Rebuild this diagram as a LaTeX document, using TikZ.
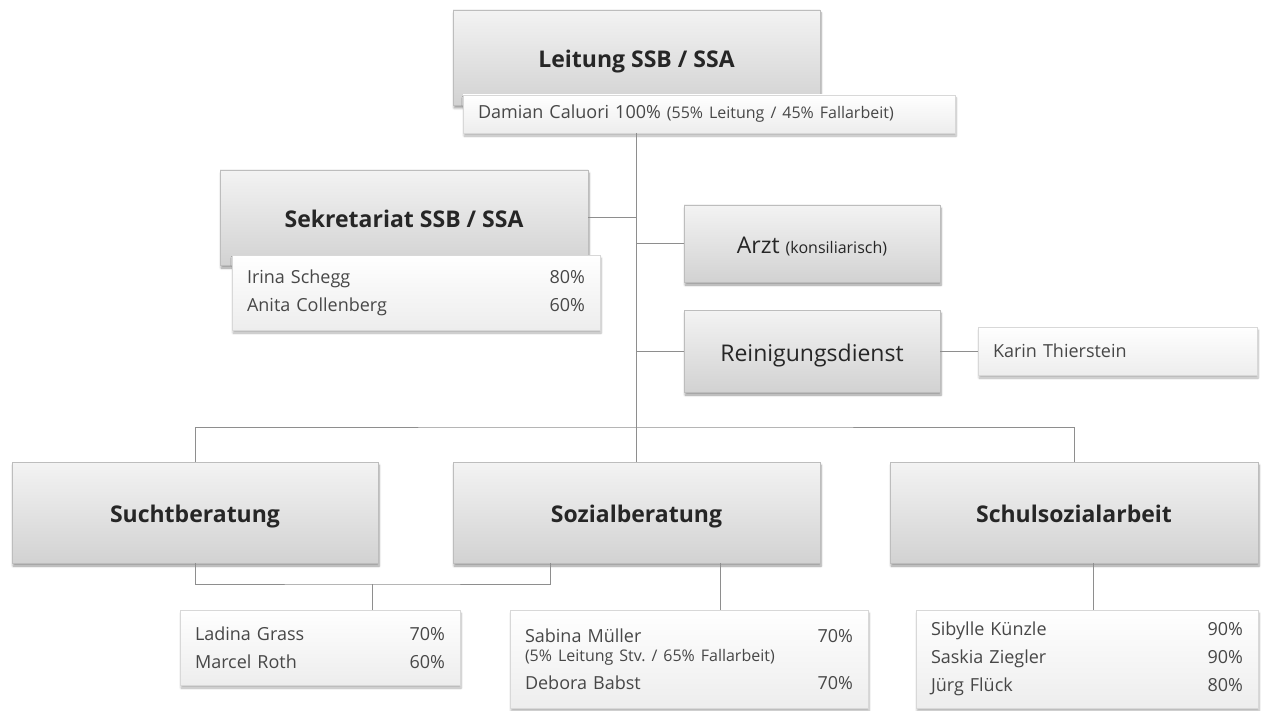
\documentclass[tikz,border=0pt]{standalone}
\usepackage{fontspec}
\setmainfont{Open Sans}
\usetikzlibrary{positioning,shadows.blur}

\definecolor{boxtop}{HTML}{F3F3F3}
\definecolor{boxbottom}{HTML}{D2D2D2}
\definecolor{boxline}{HTML}{BDBDBD}
\definecolor{staffline}{HTML}{D8D8D8}
\definecolor{stafffill}{HTML}{EDEDED}
\definecolor{linkgray}{HTML}{8E8E8E}
\definecolor{ink}{HTML}{262626}

\newcommand{\pct}[2]{#1\hskip 0pt plus 1fill #2}

\begin{document}
\begin{tikzpicture}[x=1pt,y=-1pt,
    unit/.style={draw=boxline, top color=boxtop, bottom color=boxbottom, inner sep=0pt,
      text height=20pt, text depth=0pt, text=ink,
      blur shadow={shadow xshift=1pt, shadow yshift=-3pt, shadow blur steps=6, shadow opacity=40},
      font=\fontsize{23}{28}\selectfont},
    head/.style={unit, font=\fontsize{23}{28}\selectfont\bfseries},
    staff/.style={draw=staffline, top color=white, bottom color=stafffill, inner xsep=15pt, inner ysep=0pt,
      align=left, text=ink!85, blur shadow={shadow xshift=1pt, shadow yshift=-3pt, shadow blur steps=6, shadow opacity=30},
      font=\fontsize{18}{28}\selectfont},
    link/.style={draw=linkgray, line width=1pt}]
    \useasboundingbox (0,0) rectangle (1265,711);

    % management
    \node[head, minimum width=367pt, minimum height=95pt] (leitung) at (636.5,57.5) {Leitung SSB / SSA};
    \node[staff, text width=462pt, minimum height=38pt] (leitungStaff) at (709,114)
      {Damian Caluori 100\% {\fontsize{16}{20}\selectfont(55\% Leitung / 45\% Fallarbeit)}};

    \node[head, minimum width=368pt, minimum height=95pt] (sekretariat) at (404,217.5) {Sekretariat SSB / SSA};
    \node[staff, text width=338pt, minimum height=75pt] (sekretariatStaff) at (416,292.5)
      {\pct{Irina Schegg}{80\%}\\ \pct{Anita Collenberg}{60\%}};

    \node[unit, minimum width=256pt, minimum height=77pt] (arzt) at (812,243.5)
      {Arzt {\fontsize{16}{20}\selectfont(konsiliarisch)}};
    \node[unit, minimum width=256pt, minimum height=82pt] (reinigung) at (812,351) {Reinigungsdienst};
    \node[staff, text width=249pt, minimum height=48pt] (reinigungStaff) at (1117.5,351) {Karin Thierstein};

    % departments
    \node[head, minimum width=366pt, minimum height=101pt] (sucht) at (195,512.5) {Suchtberatung};
    \node[head, minimum width=367pt, minimum height=101pt] (sozial) at (636.5,512.5) {Sozialberatung};
    \node[head, minimum width=368pt, minimum height=101pt] (schul) at (1074,512.5) {Schulsozialarbeit};

    \node[staff, text width=250pt, minimum height=75pt] (suchtStaff) at (320,647.5)
      {\pct{Ladina Grass}{70\%}\\ \pct{Marcel Roth}{60\%}};
    \node[staff, text width=328pt, minimum height=98pt] (sozialStaff) at (689,659)
      {\pct{Sabina Müller}{70\%}\\[-9pt]
       {\fontsize{16}{20}\selectfont(5\% Leitung Stv.\ / 65\% Fallarbeit)}\\
       \pct{Debora Babst}{70\%}};
    \node[staff, text width=312pt, minimum height=98pt] (schulStaff) at (1087,659)
      {\pct{Sibylle Künzle}{90\%}\\ \pct{Saskia Ziegler}{90\%}\\ \pct{Jürg Flück}{80\%}};

    % top links
    \draw[link] (leitungStaff.south -| leitung.south) -- (sozial.north);
    \draw[link] (sekretariat.east) -- (sekretariat.east -| leitung.south);
    \draw[link] (arzt.west) -- (arzt.west -| leitung.south);
    \draw[link] (reinigung.west) -- (reinigung.west -| leitung.south);
    \draw[link] (reinigung.east) -- (reinigungStaff.west);

    % bus
    \coordinate (bus) at (636.5,427);
    \draw[link] (sucht.north) |- (bus) -| (schul.north);

    % staff links
    \coordinate (suchtJoin) at (372,584);
    \coordinate (sozialTap) at (550,563);
    \coordinate (sozialDrop) at (720,563);
    \coordinate (schulDrop) at (1093,563);
    \draw[link] (sucht.south) |- (suchtJoin) -| (sozialTap);
    \draw[link] (suchtJoin) -- (suchtJoin |- suchtStaff.north);
    \draw[link] (sozialDrop) -- (sozialDrop |- sozialStaff.north);
    \draw[link] (schulDrop) -- (schulDrop |- schulStaff.north);
\end{tikzpicture}
\end{document}
